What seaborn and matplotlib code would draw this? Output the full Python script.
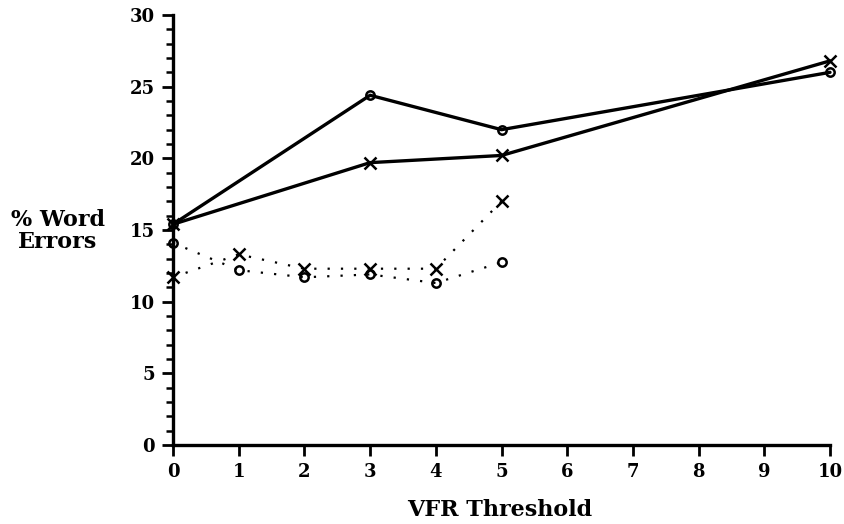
import matplotlib
matplotlib.use("Agg")
import matplotlib.pyplot as plt
import seaborn as sns
import pandas as pd
from matplotlib.ticker import MultipleLocator

sns.set_theme(style="ticks")
plt.rcParams['font.family'] = ['DejaVu Serif']
plt.rcParams['text.color'] = 'black'

# Data
solid_o_x = [0, 3, 5, 10]
solid_o_y = [15.4, 24.4, 22.0, 26.0]
solid_x_x = [0, 3, 5, 10]
solid_x_y = [15.4, 19.7, 20.2, 26.8]
dot_x_x = [0, 1, 2, 3, 4, 5]
dot_x_y = [11.7, 13.3, 12.3, 12.3, 12.3, 17.0]
dot_o_x = [0, 1, 2, 3, 4, 5]
dot_o_y = [14.1, 12.2, 11.7, 11.9, 11.3, 12.75]
x_ticks = list(range(0, 11))
y_ticks = [0, 5, 10, 15, 20, 25, 30]

fig = plt.figure(figsize=(8.44, 5.24), dpi=100)
ax = fig.add_axes([173/844, 1 - 445/524, (830 - 173)/844, (445 - 15)/524])

def draw(xs, ys, marker, ls, lw, ms):
    df = pd.DataFrame({"x": xs, "y": ys})
    sns.lineplot(data=df, x="x", y="y", ax=ax, color="black", linestyle=ls,
                 linewidth=lw, marker=marker, markersize=ms,
                 markerfacecolor="none", markeredgecolor="black",
                 markeredgewidth=1.8, clip_on=False, sort=False)

draw(solid_o_x, solid_o_y, "o", "-", 2.4, 6)
draw(solid_x_x, solid_x_y, "x", "-", 2.4, 9)
draw(dot_x_x, dot_x_y, "x", (0, (1, 5)), 1.6, 9)
draw(dot_o_x, dot_o_y, "o", (0, (1, 5)), 1.6, 6)

ax.set_xlim(0, 10)
ax.set_ylim(0, 30)
ax.set_xticks(x_ticks)
ax.set_yticks(y_ticks)
ax.yaxis.set_minor_locator(MultipleLocator(1))
ax.set_xlabel("")
ax.set_ylabel("")
for s in ["top", "right"]:
    ax.spines[s].set_visible(False)
for s in ["left", "bottom"]:
    ax.spines[s].set_linewidth(2.4)
    ax.spines[s].set_color("black")
ax.tick_params(axis="both", which="major", direction="out", length=8, width=2,
               labelsize=13, color="black", labelcolor="black", pad=5)
ax.tick_params(axis="y", which="minor", direction="out", length=5, width=1.8, color="black")
for lab in ax.get_xticklabels() + ax.get_yticklabels():
    lab.set_fontweight("bold")

fig.text(58/844, 1 - 231/524, "% Word\nErrors", ha="center", va="center",
         fontsize=16, fontweight="bold", linespacing=0.95, color="black")
fig.text(500/844, 1 - 510/524, "VFR Threshold", ha="center", va="center",
         fontsize=16, fontweight="bold", color="black")

fig.savefig("out.png", dpi=100, facecolor="white")
